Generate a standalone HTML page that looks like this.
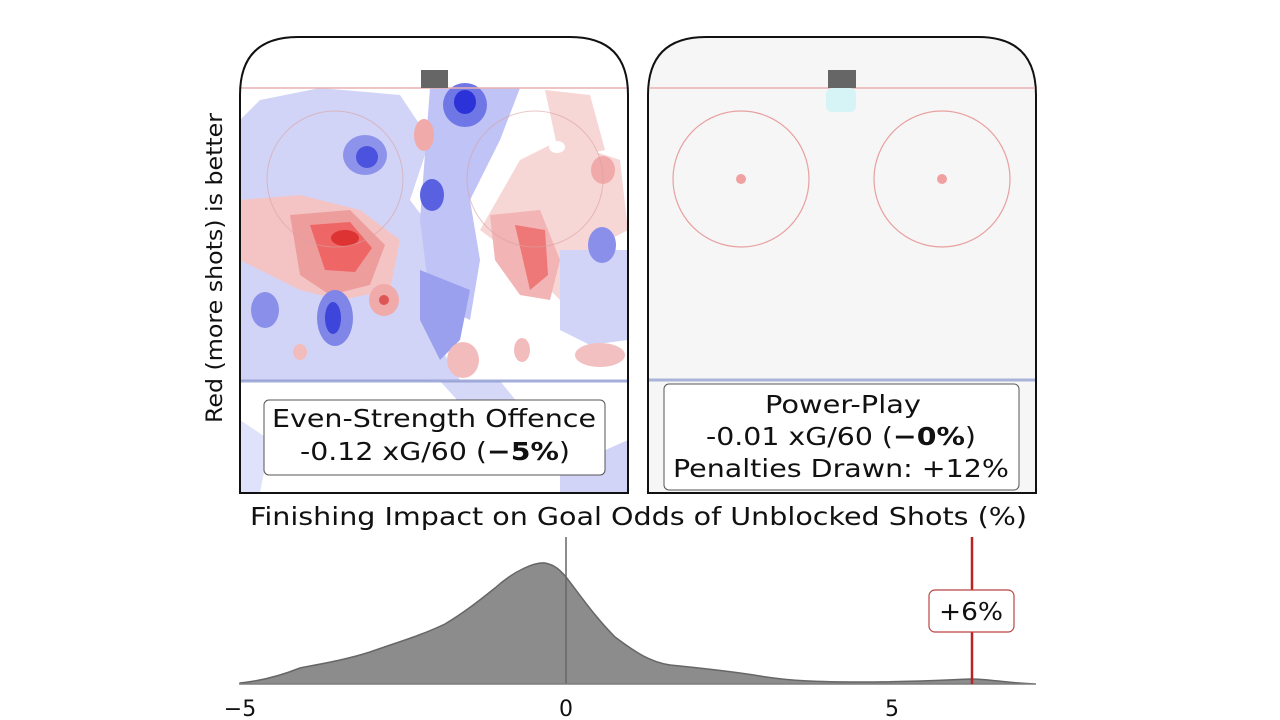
<!DOCTYPE html>
<html><head><meta charset="utf-8"><style>
body{margin:0;background:#fff;}
svg{display:block;font-family:"DejaVu Sans","Liberation Sans",sans-serif;}
</style></head><body>
<svg width="1280" height="720" viewBox="0 0 1280 720" xmlns="http://www.w3.org/2000/svg">
<defs>
<clipPath id="lc"><path d="M240,493 V95 Q240,37 298,37 H570 Q628,37 628,95 V493 Z"/></clipPath>
</defs>
<rect width="1280" height="720" fill="#fff"/>
<g clip-path="url(#lc)">
<path d="M260,100 L320,88 L400,95 L430,140 L410,200 L455,260 L430,330 L460,380 L420,381 L300,381 L240,381 L240,120 Z" fill="#d2d4f7"/>
<path d="M430,88 L520,88 L500,140 L470,200 L480,260 L470,320 L430,300 L420,220 Z" fill="#c0c3f5"/>
<path d="M520,160 L560,140 L620,160 L628,230 L590,250 L560,300 L520,260 L480,230 Z" fill="#f7d6d6"/>
<path d="M545,90 L590,95 L605,150 L560,160 Z" fill="#f7d6d6"/>
<path d="M560,250 L628,250 L628,340 L590,345 L560,330 Z" fill="#d2d4f7"/>
<path d="M440,381 L500,381 L540,430 L520,470 Z" fill="#d6d8f8"/>
<path d="M240,420 L270,440 L260,493 L240,493 Z" fill="#e0e1fa"/>
<path d="M560,470 L628,440 L628,493 L560,493 Z" fill="#d2d4f7"/>
<path d="M240,200 L300,195 L360,210 L400,240 L390,290 L340,300 L300,290 L240,260 Z" fill="#f4c4c4"/>
<path d="M290,215 L350,210 L385,245 L370,285 L330,295 L300,275 Z" fill="#ee9d9d"/>
<path d="M310,225 L350,222 L372,248 L355,272 L325,270 Z" fill="#e66"/>
<ellipse cx="345" cy="238" rx="14" ry="8" fill="#d33"/>
<path d="M490,215 L540,210 L560,260 L550,300 L520,295 L495,260 Z" fill="#f2b4b4"/>
<path d="M515,225 L545,230 L548,275 L530,290 Z" fill="#e77"/>
<ellipse cx="465" cy="105" rx="22" ry="22" fill="#6f76e6"/>
<ellipse cx="465" cy="102" rx="11" ry="12" fill="#2a32d8"/>
<ellipse cx="365" cy="155" rx="22" ry="20" fill="#8d93ea"/>
<ellipse cx="367" cy="157" rx="11" ry="11" fill="#4a52de"/>
<ellipse cx="432" cy="195" rx="12" ry="16" fill="#5a61e0"/>
<ellipse cx="335" cy="318" rx="18" ry="28" fill="#7f86e8"/>
<ellipse cx="333" cy="318" rx="8" ry="16" fill="#3d45da"/>
<ellipse cx="265" cy="310" rx="14" ry="18" fill="#8a90ea"/>
<ellipse cx="602" cy="245" rx="14" ry="18" fill="#8a90ea"/>
<path d="M420,270 L470,290 L460,340 L440,360 L420,320 Z" fill="#9aa0ee"/>
<ellipse cx="384" cy="300" rx="15" ry="16" fill="#f0aaaa"/>
<ellipse cx="384" cy="300" rx="5" ry="5" fill="#d55"/>
<ellipse cx="424" cy="135" rx="10" ry="16" fill="#f0aaaa"/>
<ellipse cx="603" cy="170" rx="12" ry="14" fill="#f0aaaa"/>
<ellipse cx="463" cy="360" rx="16" ry="18" fill="#f2bcbc"/>
<ellipse cx="522" cy="350" rx="8" ry="12" fill="#f2bcbc"/>
<ellipse cx="300" cy="352" rx="7" ry="8" fill="#f2bcbc"/>
<ellipse cx="600" cy="355" rx="25" ry="12" fill="#f2c0c0"/>
<ellipse cx="557" cy="147" rx="8" ry="6" fill="#fff"/>
<line x1="240" y1="88" x2="628" y2="88" stroke="#e8b0b0" stroke-width="1.5"/>
<line x1="240" y1="381" x2="628" y2="381" stroke="#8d9ad0" stroke-width="3" opacity="0.8"/>
<circle cx="335" cy="179" r="68" fill="none" stroke="#d8a0a0" stroke-width="1" opacity="0.6"/>
<circle cx="535" cy="179" r="68" fill="none" stroke="#d8a0a0" stroke-width="1" opacity="0.6"/>
</g>
<rect x="421" y="70" width="27" height="18" fill="#666"/>
<path d="M240,493 V95 Q240,37 298,37 H570 Q628,37 628,95 V493 Z" fill="none" stroke="#111" stroke-width="2"/>
<rect x="264" y="400" width="341" height="75" rx="5" fill="#fff" stroke="#555" stroke-width="1"/>
<text x="272" y="427" font-size="25" textLength="324" lengthAdjust="spacingAndGlyphs" fill="#111">Even-Strength Offence</text>
<text x="300" y="460" font-size="25" textLength="270" lengthAdjust="spacingAndGlyphs" fill="#111">-0.12 xG/60 (<tspan font-weight="bold">−5%</tspan>)</text>
<path d="M648,493 V95 Q648,37 706,37 H978 Q1036,37 1036,95 V493 Z" fill="#f6f6f6" stroke="#111" stroke-width="2"/>
<line x1="649" y1="88" x2="1035" y2="88" stroke="#e8b0b0" stroke-width="1.5"/>
<rect x="826" y="88" width="30" height="24" rx="6" fill="#d6f4f6"/>
<rect x="828" y="70" width="28" height="18" fill="#666"/>
<circle cx="741" cy="179" r="68" fill="none" stroke="#e8a0a0" stroke-width="1.2"/>
<circle cx="942" cy="179" r="68" fill="none" stroke="#e8a0a0" stroke-width="1.2"/>
<circle cx="741" cy="179" r="5" fill="#f0a0a0"/>
<circle cx="942" cy="179" r="5" fill="#f0a0a0"/>
<line x1="649" y1="380" x2="1035" y2="380" stroke="#a8b4d8" stroke-width="3"/>
<rect x="664" y="384" width="355" height="106" rx="5" fill="#fff" stroke="#555" stroke-width="1"/>
<text x="765" y="413" font-size="25" textLength="156" lengthAdjust="spacingAndGlyphs" fill="#111">Power-Play</text>
<text x="706" y="445" font-size="25" textLength="270" lengthAdjust="spacingAndGlyphs" fill="#111">-0.01 xG/60 (<tspan font-weight="bold">−0%</tspan>)</text>
<text x="673" y="477" font-size="25" textLength="336" lengthAdjust="spacingAndGlyphs" fill="#111">Penalties Drawn: +12%</text>
<text transform="translate(222,423) rotate(-90)" font-size="22" textLength="310" lengthAdjust="spacingAndGlyphs" fill="#111">Red (more shots) is better</text>
<text x="250" y="525" font-size="25" textLength="777" lengthAdjust="spacingAndGlyphs" fill="#111">Finishing Impact on Goal Odds of Unblocked Shots (%)</text>
<path d="M240,684 L240,683 C260,681 280,676 300,668 C320,664 345,660 370,652 C395,643 420,636 445,624 C465,612 480,600 495,588 C515,570 535,562 545,563 C555,565 560,570 566,577 C580,595 595,617 615,637 C635,652 650,662 670,665 C700,668 730,671 760,676 C790,681 820,682 860,682 C910,682 945,680 970,679 C990,679 1005,683 1036,684 Z" fill="#8c8c8c" stroke="#666" stroke-width="1.5"/>
<line x1="566" y1="537" x2="566" y2="684" stroke="#666" stroke-width="1.5"/>
<line x1="240" y1="684" x2="1036" y2="684" stroke="#888" stroke-width="1"/>
<line x1="972" y1="537" x2="972" y2="684" stroke="#b22" stroke-width="2.5"/>
<rect x="929" y="590" width="85" height="42" rx="6" fill="#fff" stroke="#b44" stroke-width="1.2"/>
<text x="939" y="620" font-size="25" textLength="64" lengthAdjust="spacingAndGlyphs" fill="#111">+6%</text>
<text x="240" y="716" font-size="22" text-anchor="middle" fill="#111">−5</text>
<text x="566" y="716" font-size="22" text-anchor="middle" fill="#111">0</text>
<text x="892" y="716" font-size="22" text-anchor="middle" fill="#111">5</text>
</svg>
</body></html>
